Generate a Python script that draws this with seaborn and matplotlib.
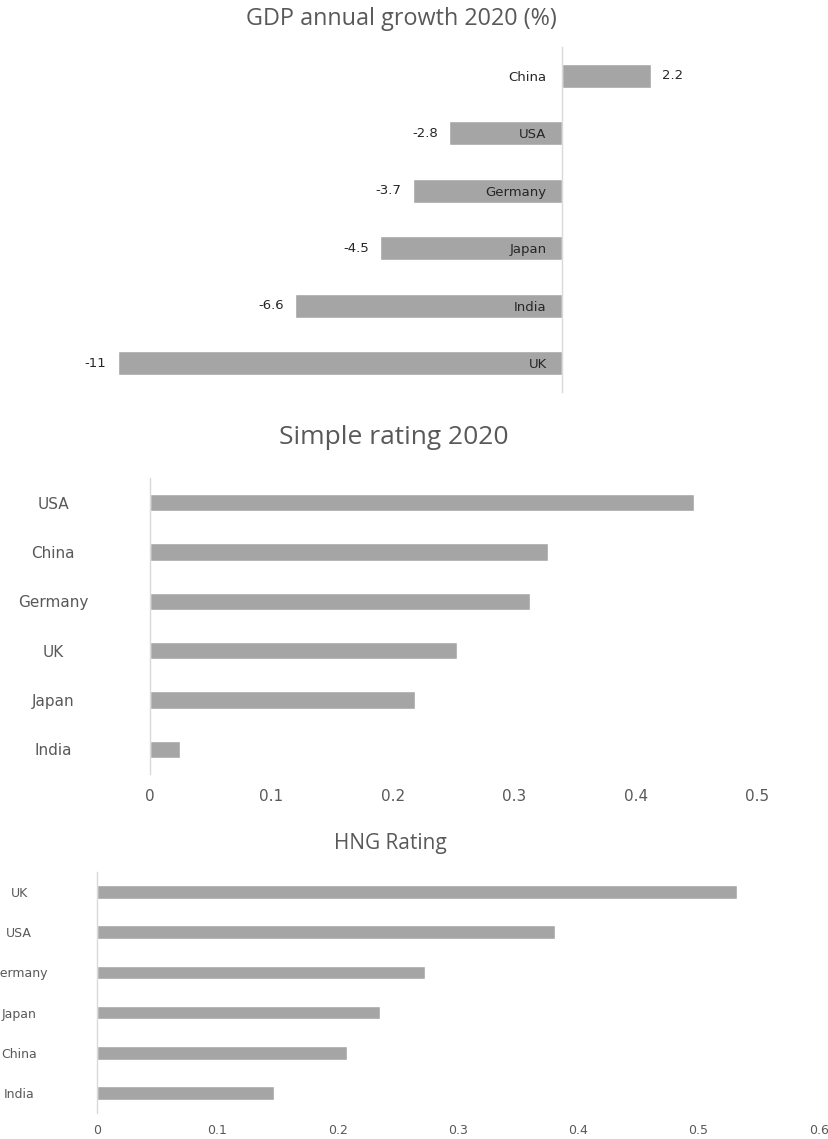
import matplotlib
matplotlib.use("Agg")
import matplotlib.pyplot as plt
import seaborn as sns
import pandas as pd

# ---------------- data ----------------
gdp_countries = ["China", "USA", "Germany", "Japan", "India", "UK"]
gdp_growth = [2.2, -2.8, -3.7, -4.5, -6.6, -11]

simple_countries = ["USA", "China", "Germany", "UK", "Japan", "India"]
simple_rating = [0.448, 0.328, 0.313, 0.253, 0.218, 0.025]

hng_countries = ["UK", "USA", "Germany", "Japan", "China", "India"]
hng_rating = [0.532, 0.381, 0.273, 0.235, 0.208, 0.147]

simple_ticks = [0, 0.1, 0.2, 0.3, 0.4, 0.5]
hng_ticks = [0, 0.1, 0.2, 0.3, 0.4, 0.5, 0.6]

titles = ["GDP annual growth 2020 (%)", "Simple rating 2020", "HNG Rating"]

# ---------------- style ----------------
sns.set_style("white")
plt.rcParams["font.family"] = ["DejaVu Sans"]

BAR = "#A5A5A5"
AXIS = "#D9D9D9"
TXT = "#595959"
DARK = "#262626"

W, H = 829, 1139
fig = plt.figure(figsize=(W / 100, H / 100), dpi=100)


def axes_px(left, right, top, bottom):
    return fig.add_axes([left / W, 1 - bottom / H, (right - left) / W, (bottom - top) / H])


def style_axes(ax):
    for s in ["top", "right", "bottom"]:
        ax.spines[s].set_visible(False)
    ax.spines["left"].set_color(AXIS)
    ax.spines["left"].set_linewidth(1.0)
    ax.set_xlabel("")
    ax.set_ylabel("")
    ax.grid(False)


# ---------------- panel 1 ----------------
ax1 = axes_px(100, 740, 47, 392)
df1 = pd.DataFrame({"country": gdp_countries, "growth": gdp_growth})
sns.barplot(data=df1, x="growth", y="country", orient="h", color=BAR,
            width=0.42, ax=ax1, saturation=1)
ax1.set_xlim((100 - 562) / 40.4, (740 - 562) / 40.4)
style_axes(ax1)
ax1.set_axisbelow(False)
ax1.spines["left"].set_position(("data", 0))
ax1.set_xticks([])
ax1.tick_params(axis="y", length=0, pad=11, labelsize=9.5, labelcolor=DARK)
for c in ax1.containers:
    ax1.bar_label(c, fmt="%g", padding=8, fontsize=9.5, color=DARK)

# ---------------- panel 2 ----------------
ax2 = axes_px(149.5, 757.5, 478, 774)
df2 = pd.DataFrame({"country": simple_countries, "rating": simple_rating})
sns.barplot(data=df2, x="rating", y="country", orient="h", color=BAR,
            width=0.345, ax=ax2, saturation=1)
ax2.set_xlim(0, 0.5)
style_axes(ax2)
ax2.set_xticks(simple_ticks)
ax2.set_xticklabels([f"{t:g}" for t in simple_ticks])
ax2.tick_params(axis="x", length=0, pad=11, labelsize=11, labelcolor=TXT)
ax2.tick_params(axis="y", length=0, pad=69.5, labelsize=11, labelcolor=TXT)
for lab in ax2.get_yticklabels():
    lab.set_horizontalalignment("center")

# ---------------- panel 3 ----------------
ax3 = axes_px(97, 818.8, 872, 1113)
df3 = pd.DataFrame({"country": hng_countries, "rating": hng_rating})
sns.barplot(data=df3, x="rating", y="country", orient="h", color=BAR,
            width=0.34, ax=ax3, saturation=1)
ax3.set_xlim(0, 0.6)
style_axes(ax3)
ax3.set_xticks(hng_ticks)
ax3.set_xticklabels([f"{t:g}" for t in hng_ticks])
ax3.tick_params(axis="x", length=0, pad=8, labelsize=9, labelcolor=TXT)
ax3.tick_params(axis="y", length=0, pad=56, labelsize=9, labelcolor=TXT)
for lab in ax3.get_yticklabels():
    lab.set_horizontalalignment("center")

# ---------------- titles ----------------
TFONT = ["Open Sans", "DejaVu Sans"]
fig.text(401 / W, 1 - 19 / H, titles[0], ha="center", va="center",
         fontsize=16.8, color=TXT, family=TFONT)
fig.text(394 / W, 1 - 437 / H, titles[1], ha="center", va="center",
         fontsize=19, color=TXT, family=TFONT)
fig.text(390 / W, 1 - 843 / H, titles[2], ha="center", va="center",
         fontsize=15, color=TXT, family=TFONT)

fig.savefig("out.png", dpi=100)
